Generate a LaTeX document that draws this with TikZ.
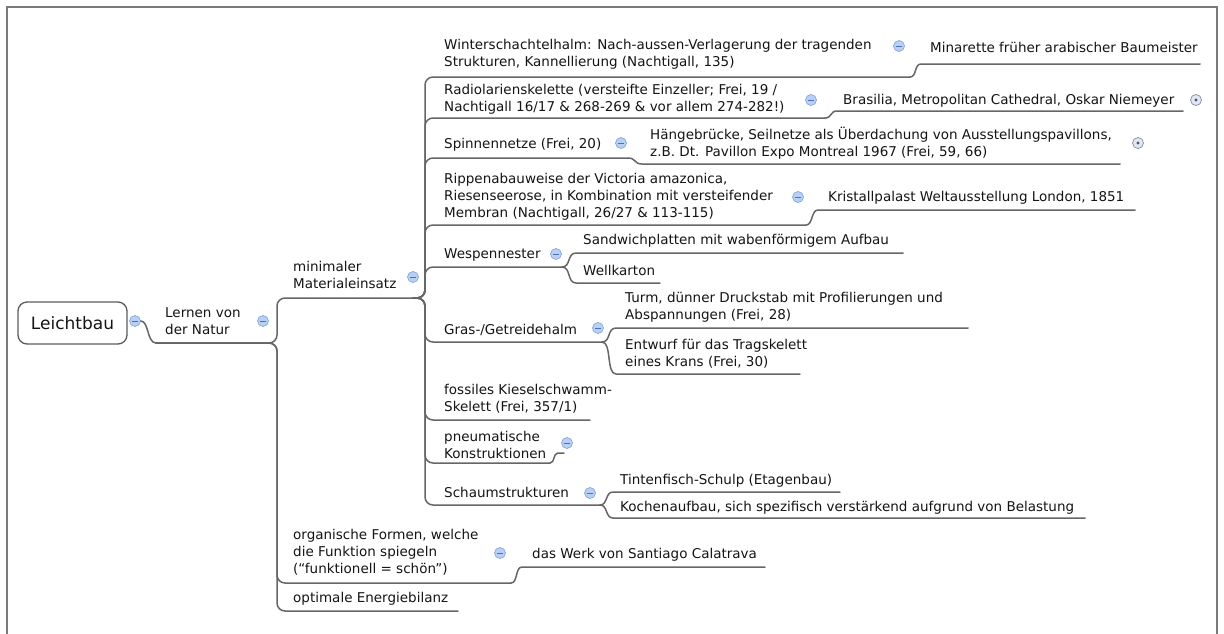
\documentclass[tikz,border=0pt]{standalone}
\usepackage{fontspec}
\setmainfont{DejaVu Sans}
\definecolor{linegray}{HTML}{666666}
\definecolor{textcol}{HTML}{141414}
\definecolor{mfill}{HTML}{B9D0F5}
\definecolor{mborder}{HTML}{86A6DE}
\definecolor{mdash}{HTML}{4F6FB5}
\definecolor{pfill}{HTML}{E2E8F2}
\definecolor{pborder}{HTML}{7D8CA6}
\definecolor{pdot}{HTML}{44546F}
\definecolor{framecol}{HTML}{7A7A7A}
\definecolor{rootborder}{HTML}{5A5A5A}
\begin{document}
\begin{tikzpicture}[x=1pt,y=-1pt,
  conn/.style={draw=linegray,line width=1.5pt,line cap=round},
  txt/.style={anchor=base west,inner sep=0pt,align=left,font=\fontsize{13.5}{17}\selectfont,text=textcol},
  minus/.style={circle,draw=mborder,fill=mfill,minimum size=11pt,inner sep=0pt,line width=0.7pt,
    path picture={\draw[mdash,line width=1pt] ([xshift=-2.6pt]path picture bounding box.center) -- ([xshift=2.6pt]path picture bounding box.center);}},
  plus/.style={circle,draw=pborder,fill=pfill,minimum size=11pt,inner sep=0pt,line width=0.7pt,
    path picture={\fill[pdot] (path picture bounding box.center) circle (1.6pt);}}
]
\useasboundingbox (0,0) rectangle (1224,633);
% frame
\draw[framecol,line width=1.6pt] (7,634) -- (7,7) -- (1217,7) -- (1217,634);

% root
\node[draw=rootborder,line width=1.3pt,rounded corners=9pt,minimum width=109pt,minimum height=42pt,
  inner sep=0pt,font=\fontsize{17}{20}\selectfont,text=textcol] (root) at (72.5,323) {Leichtbau};

% level 1 (anchor = baseline of the last line)
\node[txt] (lern) at (165,334) {Lernen von\\der Natur};
% level 2
\node[txt] (mini) at (293,288) {minimaler\\Materialeinsatz};
\node[txt] (org) at (293,573) {organische Formen, welche\\die Funktion spiegeln\\(“funktionell = schön”)};
\node[txt] (opt) at (293,602) {optimale Energiebilanz};
% level 3
\node[txt] (wint) at (444,66) {Winterschachtelhalm: Nach-aussen-Verlagerung der tragenden\\Strukturen, Kannellierung (Nachtigall, 135)};
\node[txt] (rad) at (444,111) {Radiolarienskelette (versteifte Einzeller; Frei, 19 /\\Nachtigall 16/17 \& 268-269 \& vor allem 274-282!)};
\node[txt] (spin) at (444,148) {Spinnennetze (Frei, 20)};
\node[txt] (ripp) at (444,217) {Rippenabauweise der Victoria amazonica,\\Riesenseerose, in Kombination mit versteifender\\Membran (Nachtigall, 26/27 \& 113-115)};
\node[txt] (wesp) at (444,258) {Wespennester};
\node[txt] (gras) at (444,334) {Gras-/Getreidehalm};
\node[txt] (foss) at (444,411) {fossiles Kieselschwamm-\\Skelett (Frei, 357/1)};
\node[txt] (pneu) at (444,458) {pneumatische\\Konstruktionen};
\node[txt] (schaum) at (444,497) {Schaumstrukturen};
% level 4
\node[txt] (mina) at (930,52) {Minarette früher arabischer Baumeister};
\node[txt] (bras) at (843,104) {Brasilia, Metropolitan Cathedral, Oskar Niemeyer};
\node[txt] (haeng) at (650,156) {Hängebrücke, Seilnetze als Überdachung von Ausstellungspavillons,\\z.B. Dt. Pavillon Expo Montreal 1967 (Frei, 59, 66)};
\node[txt] (krist) at (828,201) {Kristallpalast Weltausstellung London, 1851};
\node[txt] (sand) at (583,244) {Sandwichplatten mit wabenförmigem Aufbau};
\node[txt] (well) at (583,275) {Wellkarton};
\node[txt] (turm) at (625,319) {Turm, dünner Druckstab mit Profilierungen und\\Abspannungen (Frei, 28)};
\node[txt] (entw) at (625,366) {Entwurf für das Tragskelett\\eines Krans (Frei, 30)};
\node[txt] (tint) at (620,484) {Tintenfisch-Schulp (Etagenbau)};
\node[txt] (koch) at (620,511) {Kochenaufbau, sich spezifisch verstärkend aufgrund von Belastung};
\node[txt] (cala) at (532,558) {das Werk von Santiago Calatrava};

% underline coordinates
\coordinate (lernS) at (156,343);
\coordinate (miniE) at (413,298);
\coordinate (orgE) at (511,583);
\coordinate (optE) at (458,611);
\coordinate (wintE) at (910,77);
\coordinate (radE) at (825,118);
\coordinate (spinE) at (628,158);
\coordinate (rippE) at (806,225);
\coordinate (wespE) at (562,267);
\coordinate (grasE) at (602,342);
\coordinate (fossE) at (590,420);
\coordinate (pneuE) at (550,463);
\coordinate (schaumE) at (600,505);
\coordinate (minaS) at (921,64);   \coordinate (minaE) at (1200,64);
\coordinate (brasS) at (837,111);  \coordinate (brasE) at (1183,111);
\coordinate (haengS) at (642,164); \coordinate (haengE) at (1120,164);
\coordinate (kristS) at (818,210); \coordinate (kristE) at (1135,210);
\coordinate (sandS) at (576,253);  \coordinate (sandE) at (903,253);
\coordinate (wellS) at (576,283);  \coordinate (wellE) at (660,283);
\coordinate (turmS) at (616,328);  \coordinate (turmE) at (968,328);
\coordinate (entwS) at (616,374);  \coordinate (entwE) at (800,374);
\coordinate (pneuS) at (558,453);  \coordinate (pneuX) at (564,453);
\coordinate (tintS) at (613,492);  \coordinate (tintE) at (840,492);
\coordinate (kochS) at (613,518);  \coordinate (kochE) at (1085,518);
\coordinate (calaS) at (522,567);  \coordinate (calaE) at (765,567);

% minus / plus markers
\node[minus] (m0) at (135,321) {};
\node[minus] (m1) at (263,321) {};
\node[minus] (m2) at (413,277) {};
\node[minus] (m3) at (500,553) {};
\node[minus] (mw) at (899,46) {};
\node[minus] (mr) at (811,100) {};
\node[minus] (ms) at (621,143) {};
\node[minus] (mrp) at (798,197) {};
\node[minus] (mwe) at (556,254) {};
\node[minus] (mg) at (598,328) {};
\node[minus] (mp) at (567,443) {};
\node[minus] (msc) at (590,493) {};
\node[plus] (pb) at (1196,100) {};
\node[plus] (ph) at (1138,143) {};

% root -> level 1
\draw[conn] (m0.east) .. controls +(8,0) and +(-9,0) .. (lernS);
% level 1 trunk
\draw[conn,rounded corners=8pt] (lernS) -- (277,343) -- (277,298) -- (miniE);
\draw[conn,rounded corners=8pt] (lernS) -- (277,343) -- (277,583) -- (orgE);
\draw[conn,rounded corners=8pt] (lernS) -- (277,343) -- (277,611) -- (optE);
% level 2 trunk (minimaler)
\foreach \c in {wintE,radE,spinE,rippE,wespE,grasE,fossE,pneuE,schaumE}{
  \draw[conn,rounded corners=8pt] (miniE) -- (425,298) -- (425,0 |- \c) -- (\c);
}
% level 3 -> level 4
\draw[conn] (wintE) .. controls +(7,0) and +(-7,0) .. (minaS) -- (minaE);
\draw[conn] (radE) .. controls +(7,0) and +(-7,0) .. (brasS) -- (brasE);
\draw[conn] (spinE) .. controls +(8,0) and +(-8,0) .. (haengS) -- (haengE);
\draw[conn] (rippE) .. controls +(7,0) and +(-7,0) .. (kristS) -- (kristE);
\draw[conn] (wespE) .. controls +(9,0) and +(-9,0) .. (sandS) -- (sandE);
\draw[conn] (wespE) .. controls +(9,0) and +(-9,0) .. (wellS) -- (wellE);
\draw[conn] (grasE) .. controls +(9,0) and +(-9,0) .. (turmS) -- (turmE);
\draw[conn] (grasE) .. controls +(10,0) and +(-10,0) .. (entwS) -- (entwE);
\draw[conn] (pneuE) .. controls +(5,0) and +(-5,0) .. (pneuS) -- (pneuX);
\draw[conn] (schaumE) .. controls +(8,0) and +(-8,0) .. (tintS) -- (tintE);
\draw[conn] (schaumE) .. controls +(8,0) and +(-8,0) .. (kochS) -- (kochE);
\draw[conn] (orgE) .. controls +(7,0) and +(-7,0) .. (calaS) -- (calaE);
\end{tikzpicture}
\end{document}
